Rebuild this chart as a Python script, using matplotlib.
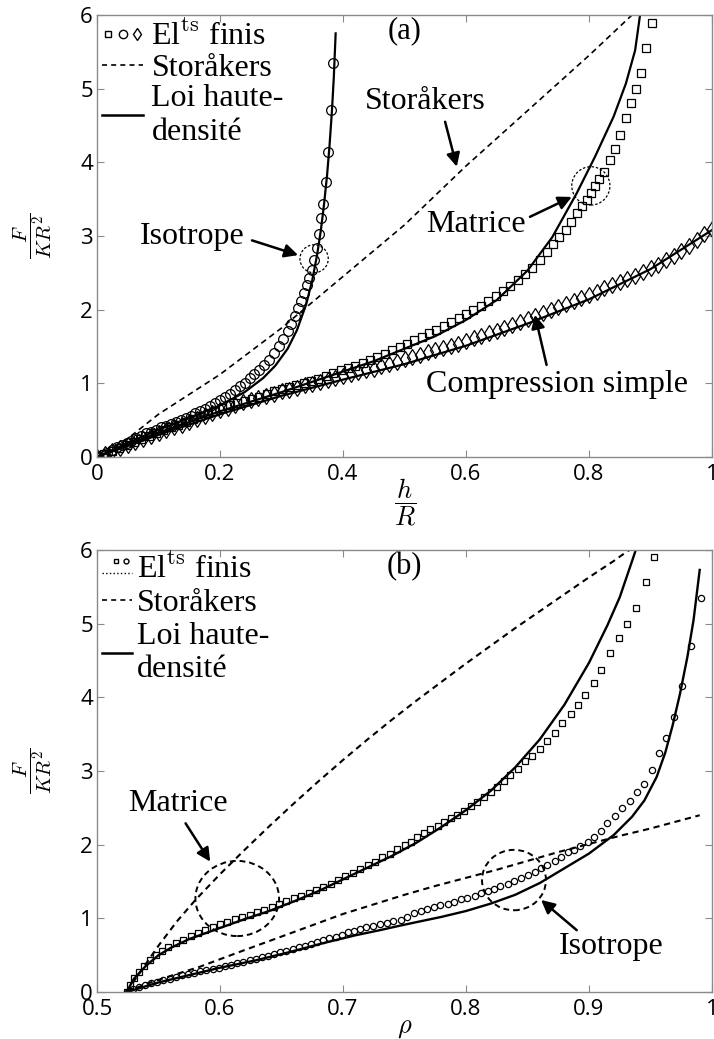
import matplotlib
matplotlib.use('Agg')
import matplotlib.pyplot as plt
from matplotlib.lines import Line2D
from matplotlib.patches import Ellipse
from matplotlib.legend_handler import HandlerBase
from matplotlib.ticker import FuncFormatter

# ---------- (a) F/(KR^2) versus h/R ----------
# finite elements, isotrope (circles)
iso_fe_x = [0, 0.008, 0.016, 0.024, 0.032, 0.040, 0.048, 0.056, 0.064, 0.072, 0.080, 0.088,
            0.096, 0.104, 0.112, 0.120, 0.128, 0.136, 0.144, 0.152, 0.160, 0.168, 0.176, 0.184,
            0.192, 0.200, 0.208, 0.216, 0.224, 0.232, 0.240, 0.248, 0.256, 0.264, 0.272, 0.280,
            0.288, 0.296, 0.303, 0.310, 0.316, 0.322, 0.327, 0.332, 0.337, 0.341, 0.345, 0.349,
            0.353, 0.357, 0.361, 0.365, 0.368, 0.372, 0.376, 0.380, 0.384]
iso_fe_y = [0, 0.03, 0.06, 0.10, 0.13, 0.16, 0.19, 0.22, 0.26, 0.29, 0.32, 0.34,
            0.37, 0.40, 0.42, 0.45, 0.48, 0.50, 0.53, 0.56, 0.59, 0.62, 0.65, 0.69,
            0.73, 0.77, 0.81, 0.86, 0.91, 0.96, 1.01, 1.07, 1.12, 1.18, 1.25, 1.32,
            1.41, 1.50, 1.60, 1.71, 1.81, 1.92, 2.02, 2.12, 2.23, 2.33, 2.43, 2.54,
            2.68, 2.83, 3.02, 3.24, 3.44, 3.73, 4.14, 4.71, 5.35]
# finite elements, matrice (squares)
mat_fe_x = [0, 0.012, 0.024, 0.036, 0.048, 0.060, 0.072, 0.084, 0.096, 0.108, 0.120, 0.132,
            0.144, 0.156, 0.168, 0.180, 0.192, 0.204, 0.216, 0.228, 0.240, 0.252, 0.264, 0.276,
            0.288, 0.300, 0.312, 0.324, 0.336, 0.348, 0.360, 0.372, 0.384, 0.396, 0.408, 0.420,
            0.432, 0.444, 0.456, 0.468, 0.480, 0.492, 0.504, 0.516, 0.528, 0.540, 0.552, 0.564,
            0.576, 0.588, 0.600, 0.612, 0.624, 0.636, 0.648, 0.660, 0.672, 0.684, 0.696, 0.708,
            0.720, 0.731, 0.742, 0.752, 0.762, 0.771, 0.780, 0.788, 0.796, 0.803, 0.810, 0.817,
            0.825, 0.834, 0.842, 0.850, 0.860, 0.868, 0.876, 0.884, 0.893, 0.902]
mat_fe_y = [0, 0.04, 0.08, 0.12, 0.16, 0.20, 0.24, 0.28, 0.33, 0.37, 0.40, 0.44,
            0.48, 0.52, 0.55, 0.59, 0.63, 0.67, 0.70, 0.73, 0.76, 0.79, 0.82, 0.85,
            0.89, 0.92, 0.95, 0.97, 1.00, 1.03, 1.06, 1.10, 1.14, 1.18, 1.21, 1.24,
            1.28, 1.32, 1.36, 1.40, 1.45, 1.49, 1.54, 1.59, 1.63, 1.68, 1.73, 1.78,
            1.83, 1.88, 1.94, 1.99, 2.05, 2.12, 2.18, 2.25, 2.32, 2.40, 2.48, 2.57,
            2.67, 2.78, 2.89, 2.98, 3.08, 3.19, 3.31, 3.40, 3.49, 3.58, 3.68, 3.77,
            3.87, 4.03, 4.18, 4.37, 4.60, 4.80, 5.00, 5.21, 5.55, 5.89]
# finite elements, compression simple (diamonds)
cs_fe_x = [0, 0.0125, 0.025, 0.0375, 0.05, 0.0625, 0.075, 0.0875, 0.1, 0.1125, 0.125, 0.1375,
           0.15, 0.1625, 0.175, 0.1875, 0.2, 0.2125, 0.225, 0.2375, 0.25, 0.2625, 0.275, 0.2875,
           0.3, 0.3125, 0.325, 0.3375, 0.35, 0.3625, 0.375, 0.3875, 0.4, 0.4125, 0.425, 0.4375,
           0.45, 0.4625, 0.475, 0.4875, 0.5, 0.5125, 0.525, 0.5375, 0.55, 0.5625, 0.575, 0.5875,
           0.6, 0.6125, 0.625, 0.6375, 0.65, 0.6625, 0.675, 0.6875, 0.7, 0.7125, 0.725, 0.7375,
           0.75, 0.7625, 0.775, 0.7875, 0.8, 0.8125, 0.825, 0.8375, 0.85, 0.8625, 0.875, 0.8875,
           0.9, 0.9125, 0.925, 0.9375, 0.95, 0.9625, 0.975, 0.9875, 1.0]
cs_fe_y = [0, 0.04, 0.08, 0.12, 0.16, 0.20, 0.24, 0.28, 0.32, 0.36, 0.40, 0.44,
           0.48, 0.52, 0.56, 0.60, 0.64, 0.67, 0.71, 0.74, 0.77, 0.80, 0.83, 0.86,
           0.89, 0.91, 0.94, 0.97, 0.99, 1.02, 1.05, 1.07, 1.10, 1.12, 1.15, 1.18,
           1.20, 1.23, 1.26, 1.29, 1.33, 1.36, 1.39, 1.42, 1.45, 1.48, 1.51, 1.54,
           1.58, 1.61, 1.64, 1.68, 1.71, 1.75, 1.79, 1.83, 1.87, 1.91, 1.95, 1.99,
           2.03, 2.07, 2.12, 2.16, 2.20, 2.24, 2.29, 2.33, 2.38, 2.42, 2.46, 2.51,
           2.56, 2.61, 2.67, 2.73, 2.80, 2.86, 2.94, 3.02, 3.10]
# loi haute-densite (solid)
iso_law_x = [0, 0.05, 0.1, 0.15, 0.2, 0.24, 0.27, 0.29, 0.31, 0.325, 0.34, 0.35, 0.358, 0.364,
             0.369, 0.374, 0.378, 0.382, 0.385, 0.388]
iso_law_y = [0, 0.19, 0.37, 0.53, 0.70, 0.88, 1.07, 1.24, 1.47, 1.72, 2.07, 2.40, 2.75, 3.08,
             3.42, 3.82, 4.22, 4.70, 5.15, 5.75]
mat_law_x = [0, 0.1, 0.2, 0.3, 0.4, 0.45, 0.5, 0.55, 0.6, 0.65, 0.7, 0.74, 0.78, 0.81, 0.84,
             0.86, 0.875, 0.883, 0.89]
mat_law_y = [0, 0.33, 0.62, 0.88, 1.16, 1.30, 1.47, 1.64, 1.86, 2.13, 2.53, 2.98, 3.58, 4.08,
             4.62, 5.07, 5.52, 6.0, 6.3]
cs_law_x = [0, 0.1, 0.2, 0.3, 0.4, 0.5, 0.6, 0.7, 0.8, 0.9, 1.0]
cs_law_y = [0, 0.30, 0.58, 0.83, 1.05, 1.26, 1.51, 1.81, 2.14, 2.55, 3.08]
# Storakers (dashed)
sto_a_x = [0, 0.05, 0.1, 0.2, 0.3, 0.4, 0.5, 0.6, 0.7, 0.8, 0.87, 0.9]
sto_a_y = [0, 0.25, 0.58, 1.12, 1.75, 2.45, 3.15, 3.95, 4.70, 5.45, 6.0, 6.25]

# ---------- (b) F/(KR^2) versus rho ----------
mat_fe_rho = [0.524, 0.527, 0.530, 0.534, 0.538, 0.543, 0.548, 0.553, 0.558, 0.564, 0.570, 0.576,
              0.582, 0.588, 0.594, 0.600, 0.606, 0.612, 0.618, 0.624, 0.630, 0.636, 0.642, 0.648,
              0.654, 0.660, 0.666, 0.672, 0.678, 0.684, 0.690, 0.696, 0.702, 0.708, 0.714, 0.720,
              0.726, 0.732, 0.738, 0.744, 0.750, 0.755, 0.760, 0.766, 0.771, 0.777, 0.782, 0.788,
              0.793, 0.798, 0.804, 0.809, 0.815, 0.820, 0.825, 0.831, 0.836, 0.842, 0.848, 0.854,
              0.860, 0.866, 0.872, 0.878, 0.885, 0.891, 0.897, 0.904, 0.910, 0.917, 0.924, 0.931,
              0.938, 0.946, 0.953]
mat_fe_f = [0, 0.10, 0.19, 0.27, 0.35, 0.43, 0.50, 0.56, 0.61, 0.66, 0.71, 0.76,
            0.80, 0.84, 0.88, 0.92, 0.95, 0.99, 1.02, 1.05, 1.09, 1.12, 1.16, 1.20,
            1.23, 1.27, 1.31, 1.35, 1.39, 1.43, 1.47, 1.52, 1.57, 1.62, 1.67, 1.72,
            1.77, 1.83, 1.88, 1.94, 1.99, 2.04, 2.10, 2.16, 2.21, 2.26, 2.31, 2.36,
            2.41, 2.46, 2.52, 2.58, 2.65, 2.72, 2.79, 2.87, 2.94, 3.03, 3.13, 3.21,
            3.30, 3.41, 3.52, 3.65, 3.77, 3.89, 4.03, 4.19, 4.37, 4.60, 4.81, 5.00,
            5.22, 5.56, 5.91]
iso_fe_rho = [0.524, 0.529, 0.534, 0.539, 0.544, 0.549, 0.554, 0.559, 0.564, 0.569, 0.574, 0.579,
              0.584, 0.589, 0.594, 0.599, 0.604, 0.609, 0.614, 0.619, 0.624, 0.629, 0.634, 0.639,
              0.644, 0.649, 0.654, 0.659, 0.664, 0.669, 0.674, 0.679, 0.684, 0.689, 0.694, 0.699,
              0.704, 0.709, 0.714, 0.719, 0.724, 0.730, 0.736, 0.741, 0.747, 0.752, 0.758, 0.763,
              0.768, 0.774, 0.779, 0.785, 0.790, 0.796, 0.801, 0.807, 0.812, 0.818, 0.823, 0.828,
              0.834, 0.839, 0.845, 0.850, 0.856, 0.861, 0.866, 0.872, 0.877, 0.883, 0.888, 0.893,
              0.899, 0.904, 0.910, 0.915, 0.921, 0.927, 0.933, 0.939, 0.945, 0.951, 0.957, 0.963,
              0.969, 0.976, 0.983, 0.991]
iso_fe_f = [0, 0.04, 0.07, 0.10, 0.12, 0.14, 0.16, 0.18, 0.21, 0.23, 0.25, 0.26,
            0.28, 0.30, 0.31, 0.33, 0.35, 0.37, 0.39, 0.41, 0.43, 0.45, 0.47, 0.49,
            0.51, 0.54, 0.56, 0.58, 0.61, 0.63, 0.65, 0.68, 0.70, 0.73, 0.75, 0.78,
            0.81, 0.83, 0.86, 0.88, 0.90, 0.92, 0.94, 0.96, 0.98, 1.02, 1.07, 1.10,
            1.13, 1.15, 1.18, 1.20, 1.22, 1.26, 1.28, 1.31, 1.34, 1.37, 1.40, 1.44,
            1.47, 1.51, 1.55, 1.59, 1.63, 1.68, 1.72, 1.78, 1.83, 1.90, 1.93, 1.98,
            2.04, 2.10, 2.18, 2.29, 2.39, 2.50, 2.60, 2.71, 2.83, 3.01, 3.24, 3.45,
            3.73, 4.16, 4.70, 5.35]
mat_law_rho = [0.524, 0.53, 0.54, 0.55, 0.56, 0.575, 0.59, 0.605, 0.62, 0.64, 0.66, 0.68, 0.70,
               0.72, 0.74, 0.76, 0.78, 0.80, 0.82, 0.84, 0.86, 0.88, 0.90, 0.915, 0.925, 0.935,
               0.942]
mat_law_f = [0, 0.18, 0.36, 0.50, 0.60, 0.72, 0.81, 0.90, 0.99, 1.10, 1.23, 1.37, 1.53,
             1.69, 1.85, 2.03, 2.24, 2.47, 2.73, 3.05, 3.43, 3.90, 4.47, 4.98, 5.36, 5.85,
             6.2]
iso_law_rho = [0.524, 0.55, 0.575, 0.60, 0.629, 0.656, 0.683, 0.710, 0.730, 0.746, 0.76, 0.78,
               0.80, 0.82, 0.84, 0.86, 0.88, 0.90, 0.92, 0.935, 0.945, 0.955, 0.962, 0.968,
               0.974, 0.98, 0.985, 0.990]
iso_law_f = [0, 0.13, 0.23, 0.33, 0.43, 0.54, 0.66, 0.77, 0.84, 0.90, 0.95, 1.02,
             1.10, 1.20, 1.32, 1.48, 1.68, 1.88, 2.13, 2.38, 2.60, 2.92, 3.25, 3.62,
             4.05, 4.55, 5.05, 5.73]
sto_mat_rho = [0.524, 0.535, 0.55, 0.565, 0.58, 0.60, 0.62, 0.64, 0.66, 0.68, 0.70, 0.72, 0.74,
               0.76, 0.78, 0.80, 0.82, 0.84, 0.86, 0.88, 0.90, 0.92, 0.93, 0.94]
sto_mat_f = [0, 0.27, 0.63, 0.96, 1.25, 1.60, 1.93, 2.25, 2.56, 2.86, 3.15, 3.43, 3.70,
             3.96, 4.21, 4.46, 4.70, 4.94, 5.17, 5.40, 5.63, 5.85, 5.97, 6.08]
sto_iso_rho = [0.524, 0.54, 0.56, 0.583, 0.62, 0.656, 0.70, 0.725, 0.75, 0.775, 0.80, 0.825,
               0.85, 0.875, 0.90, 0.925, 0.95, 0.97, 0.99]
sto_iso_f = [0, 0.11, 0.22, 0.34, 0.57, 0.79, 1.06, 1.19, 1.32, 1.44, 1.55, 1.66,
             1.78, 1.90, 2.01, 2.12, 2.22, 2.31, 2.40]

SERIF = 'Liberation Serif'
plt.rcParams['mathtext.fontset'] = 'cm'
plt.rcParams['font.family'] = ['Open Sans', 'DejaVu Sans']


class FEHandler(HandlerBase):
    # draws several open markers side by side, optionally over a dotted line
    def __init__(self, markers, sizes, xpos, ypos, dotted=False):
        super().__init__()
        self.markers, self.sizes, self.xpos, self.ypos, self.dotted = markers, sizes, xpos, ypos, dotted

    def create_artists(self, legend, orig_handle, xdescent, ydescent, width, height, fontsize, trans):
        arts = []
        if self.dotted:
            arts.append(Line2D([-xdescent, -xdescent + width], [height * 0.2 - ydescent] * 2,
                               ls=':', lw=1.0, color='k', transform=trans))
        for m, s, xp in zip(self.markers, self.sizes, self.xpos):
            arts.append(Line2D([-xdescent + width * xp], [height * self.ypos - ydescent], marker=m,
                               ms=s, mfc='none', mec='k', mew=1.0, ls='none', transform=trans))
        return arts


def style_axes(ax, xlim, xticks):
    ax.set_xlim(*xlim)
    ax.set_ylim(0, 6)
    ax.set_xticks(xticks)
    ax.set_yticks(range(7))
    fmt = FuncFormatter(lambda v, p: '%g' % v)
    ax.xaxis.set_major_formatter(fmt)
    ax.yaxis.set_major_formatter(fmt)
    for s in ax.spines.values():
        s.set_color('#8a8a8a')
        s.set_linewidth(1.0)
    ax.tick_params(direction='in', length=5, width=0.8, color='#8a8a8a', top=True, right=True,
                   labelsize=16, labelcolor='k')
    ax.tick_params(axis='x', pad=5)
    ax.tick_params(axis='y', pad=3)
    ax.set_ylabel(r'$\dfrac{F}{KR^2}$', fontsize=15)
    ax.yaxis.set_label_coords(-0.07, 0.5)


def arrow(ax, tail, tip):
    ax.annotate('', xy=tip, xytext=tail,
                arrowprops=dict(arrowstyle='-|>', color='k', lw=1.8, mutation_scale=20,
                                shrinkA=0, shrinkB=0))


fig = plt.figure(figsize=(7.14, 10.39), dpi=100)
ax1 = fig.add_axes([0.1359, 0.5602, 0.8613, 0.4254])
ax2 = fig.add_axes([0.1359, 0.0452, 0.8613, 0.4254])

# ----- panel (a)
dash_a = (0, (3.5, 2.5))
ax1.plot(sto_a_x, sto_a_y, color='k', lw=1.2, ls=dash_a)
ax1.plot(cs_law_x, cs_law_y, color='k', lw=1.6)
ax1.plot(mat_law_x, mat_law_y, color='k', lw=1.6)
ax1.plot(iso_law_x, iso_law_y, color='k', lw=1.6)
fe_a, = ax1.plot(cs_fe_x, cs_fe_y, ls='none', marker='d', ms=8, mfc='none', mec='k', mew=0.9)
ax1.plot(mat_fe_x, mat_fe_y, ls='none', marker='s', ms=5.5, mfc='none', mec='k', mew=0.9)
ax1.plot(iso_fe_x, iso_fe_y, ls='none', marker='o', ms=7, mfc='none', mec='k', mew=0.9)
sto_h = Line2D([], [], color='k', lw=1.2, ls=(0, (3, 2.5)))
law_h = Line2D([], [], color='k', lw=1.8)
style_axes(ax1, (0, 1), [0, 0.2, 0.4, 0.6, 0.8, 1])
ax1.set_xlabel(r'$\dfrac{h}{R}$', fontsize=19)
ax1.xaxis.set_label_coords(0.5, -0.045)

ax1.legend([fe_a, sto_h, law_h], [r'El$^{\mathrm{ts}}$ finis', 'Storåkers', 'Loi haute-\ndensité'],
           handler_map={fe_a: FEHandler(['s', 'o', 'd'], [5, 6, 6.5], [0.15, 0.5, 0.85], 0.5)},
           loc='upper left', bbox_to_anchor=(0.008, 0.985), frameon=False,
           prop={'family': SERIF, 'size': 23}, handlelength=1.3, handletextpad=0.25,
           labelspacing=0.05, borderpad=0, borderaxespad=0)

ax1.text(0.5, 5.78, '(a)', family=SERIF, fontsize=22, ha='center', va='center')
ax1.text(0.533, 4.82, 'Storåkers', family=SERIF, fontsize=23, ha='center', va='center')
arrow(ax1, (0.566, 4.55), (0.585, 3.94))
ax1.text(0.616, 3.15, 'Matrice', family=SERIF, fontsize=23, ha='center', va='center')
arrow(ax1, (0.704, 3.26), (0.772, 3.53))
ax1.text(0.155, 2.99, 'Isotrope', family=SERIF, fontsize=23, ha='center', va='center')
arrow(ax1, (0.252, 2.94), (0.327, 2.74))
ax1.text(0.748, 0.99, 'Compression simple', family=SERIF, fontsize=23, ha='center', va='center')
arrow(ax1, (0.731, 1.25), (0.712, 1.93))
ax1.add_patch(Ellipse((0.353, 2.69), 0.046, 0.38, fill=False, ls=(0, (2, 1.5)), lw=0.9, color='k'))
ax1.add_patch(Ellipse((0.803, 3.68), 0.062, 0.52, fill=False, ls=(0, (2, 1.5)), lw=0.9, color='k'))

# ----- panel (b)
dash_b = (0, (3, 2.2))
ax2.plot(sto_mat_rho, sto_mat_f, color='k', lw=1.5, ls=dash_b)
ax2.plot(sto_iso_rho, sto_iso_f, color='k', lw=1.5, ls=dash_b)
ax2.plot(mat_law_rho, mat_law_f, color='k', lw=1.7)
ax2.plot(iso_law_rho, iso_law_f, color='k', lw=1.7)
fe_b, = ax2.plot(mat_fe_rho, mat_fe_f, ls='none', marker='s', ms=4, mfc='none', mec='k', mew=0.9)
ax2.plot(iso_fe_rho, iso_fe_f, ls='none', marker='o', ms=4.5, mfc='none', mec='k', mew=0.9)
style_axes(ax2, (0.5, 1), [0.5, 0.6, 0.7, 0.8, 0.9, 1])
ax2.set_xlabel(r'$\rho$', fontsize=19)
ax2.xaxis.set_label_coords(0.5, -0.052)

ax2.legend([fe_b, sto_h, law_h], [r'El$^{\mathrm{ts}}$ finis', 'Storåkers', 'Loi haute-\ndensité'],
           handler_map={fe_b: FEHandler(['s', 'o'], [3.5, 3.5], [0.45, 0.8], 0.75, dotted=True)},
           loc='upper left', bbox_to_anchor=(0.008, 0.99), frameon=False,
           prop={'family': SERIF, 'size': 23}, handlelength=0.95, handletextpad=0.15,
           labelspacing=0.12, borderpad=0, borderaxespad=0)

ax2.text(0.75, 5.77, '(b)', family=SERIF, fontsize=22, ha='center', va='center')
ax2.text(0.566, 2.56, 'Matrice', family=SERIF, fontsize=23, ha='center', va='center')
arrow(ax2, (0.572, 2.29), (0.592, 1.77))
ax2.text(0.918, 0.62, 'Isotrope', family=SERIF, fontsize=23, ha='center', va='center')
arrow(ax2, (0.890, 0.84), (0.861, 1.25))
ax2.add_patch(Ellipse((0.614, 1.27), 0.068, 1.02, fill=False, ls=(0, (3, 2)), lw=1.4, color='k'))
ax2.add_patch(Ellipse((0.839, 1.52), 0.052, 0.82, fill=False, ls=(0, (3, 2)), lw=1.4, color='k'))

fig.savefig('out.png', dpi=100)
